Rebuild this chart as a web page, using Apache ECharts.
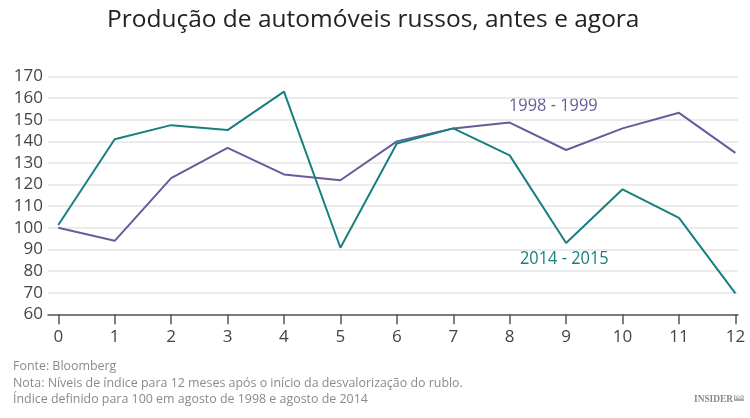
<!DOCTYPE html>
<html lang="pt">
<head>
    <meta charset="UTF-8">
    <title>Produção de automóveis russos</title>
    <script src="https://cdn.jsdelivr.net/npm/echarts@6/dist/echarts.min.js"></script>
    <style>
        html, body { margin: 0; padding: 0; background: #fff; }
        #chart { width: 750px; height: 418px; }
    </style>
</head>
<body>
    <div id="chart"></div>
    <script>
        // meses após o início da desvalorização
        const meses = [0, 1, 2, 3, 4, 5, 6, 7, 8, 9, 10, 11, 12];
        // índice, 1998-1999
        const serie1998 = [100, 94, 123, 137, 124.7, 122, 140, 146, 148.7, 136, 146, 153.2, 134.7];
        // índice, 2014-2015
        const serie2014 = [101.3, 141, 147.5, 145.2, 163, 90.8, 139, 146, 133.5, 93, 117.8, 104.6, 69.7];
        const yTicks = [60, 70, 80, 90, 100, 110, 120, 130, 140, 150, 160, 170];

        const fonte = 'Open Sans, Noto Sans, sans-serif';
        const roxo = '#6a5a9c';
        const verde = '#17807f';

        const chart = echarts.init(document.getElementById('chart'));

        const option = {
            animation: false,
            grid: { left: 48, right: 12, top: 76.5, bottom: 103.7 },
            xAxis: {
                type: 'value',
                min: -0.182,
                max: 12.046,
                splitLine: { show: false },
                axisLine: { onZero: false, lineStyle: { color: '#555', width: 1.5 } },
                axisTick: { show: true, length: 10, customValues: meses, lineStyle: { color: '#555', width: 1.5 } },
                axisLabel: { customValues: meses, margin: 14, fontFamily: fonte, fontSize: 17, color: '#444' }
            },
            yAxis: {
                type: 'value',
                min: yTicks[0],
                max: yTicks[yTicks.length - 1],
                interval: 10,
                axisLine: { show: false },
                axisTick: { show: false },
                axisLabel: { margin: 5, fontFamily: fonte, fontSize: 17, color: '#444' },
                splitLine: { lineStyle: { color: '#e5e5e5', width: 1.5 } }
            },
            series: [
                {
                    name: '1998 - 1999',
                    type: 'line',
                    data: meses.map((m, i) => [m, serie1998[i]]),
                    symbol: 'none',
                    lineStyle: { color: roxo, width: 2 }
                },
                {
                    name: '2014 - 2015',
                    type: 'line',
                    data: meses.map((m, i) => [m, serie2014[i]]),
                    symbol: 'none',
                    lineStyle: { color: verde, width: 2 }
                }
            ],
            graphic: [
                {
                    type: 'text', x: 107, y: 8, scaleX: 1.02,
                    style: { text: 'Produção de automóveis russos, antes e agora', fill: '#222', font: '24px ' + fonte }
                },
                { type: 'text', x: 509, y: 97, scaleX: 0.91, style: { text: '1998 - 1999', fill: roxo, font: '18px ' + fonte } },
                { type: 'text', x: 520, y: 250, scaleX: 0.91, style: { text: '2014 - 2015', fill: verde, font: '18px ' + fonte } },
                {
                    type: 'text', x: 13, y: 358, scaleX: 0.955,
                    style: {
                        text: 'Fonte: Bloomberg\nNota: Níveis de índice para 12 meses após o início da desvalorização do rublo.\nÍndice definido para 100 em agosto de 1998 e agosto de 2014',
                        fill: '#8a8a8a', font: '13px ' + fonte, lineHeight: 16.6
                    }
                },
                {
                    // alinhado à direita para que o scaleX não invada a caixa "PRO"
                    type: 'text', x: 733, y: 394, scaleX: 0.85,
                    style: { text: 'INSIDER', fill: '#8a8a8a', font: 'bold 11px Liberation Serif, serif', align: 'right' }
                },
                {
                    type: 'rect', shape: { x: 734, y: 395, width: 10, height: 6 },
                    style: { fill: '#aaa' }
                },
                {
                    type: 'text', x: 735, y: 395.5,
                    style: { text: 'PRO', fill: '#fff', font: 'bold 5px Liberation Sans, sans-serif' }
                }
            ]
        };

        chart.setOption(option);
    </script>
</body>
</html>
